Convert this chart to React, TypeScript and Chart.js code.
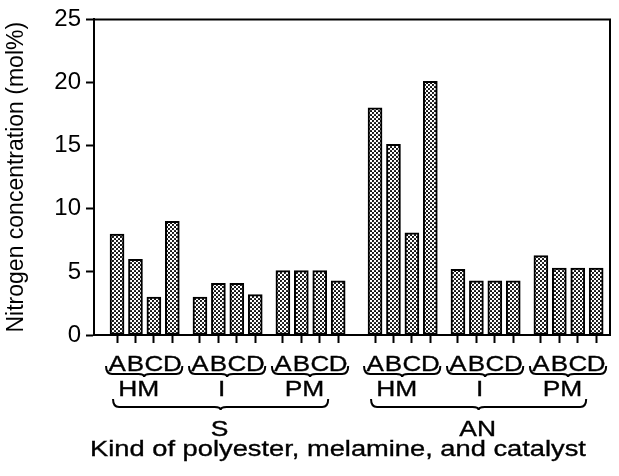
import React, { useEffect, useRef } from 'react';
import { Chart, registerables } from 'chart.js';

Chart.register(...registerables);

const polyesters = ['S', 'AN'];
const melamines = ['HM', 'I', 'PM'];
const catalysts = ['A', 'B', 'C', 'D'];
const valuesS = [8, 6, 3, 9, 3, 4.1, 4.1, 3.2, 5.1, 5.1, 5.1, 4.3];
const valuesAN = [18, 15.1, 8.1, 20.1, 5.2, 4.3, 4.3, 4.3, 6.3, 5.3, 5.3, 5.3];
const yTickValues = [0, 5, 10, 15, 20, 25];
const yTitle = 'Nitrogen concentration (mol%)';
const xTitle = 'Kind of polyester, melamine, and catalyst';

const FONT = "'Liberation Sans', Arial, Helvetica, sans-serif";

// Build category list (spacer categories hold null values)
const labels: string[] = [];
const barData: (number | null)[] = [];
type Group = { name: string; first: number; last: number };
const melGroups: Group[] = [];
const polyGroups: Group[] = [];
const spacer = (n: number) => {
  for (let i = 0; i < n; i++) {
    labels.push('');
    barData.push(null);
  }
};
spacer(2);
polyesters.forEach((p, pi) => {
  if (pi > 0) spacer(3);
  const vals = pi === 0 ? valuesS : valuesAN;
  const pFirst = labels.length;
  melamines.forEach((m, mi) => {
    if (mi > 0) spacer(2);
    const mFirst = labels.length;
    catalysts.forEach((c, ci) => {
      if (ci > 0) spacer(1);
      labels.push(c);
      barData.push(vals[mi * catalysts.length + ci]);
    });
    melGroups.push({ name: m, first: mFirst, last: labels.length - 1 });
  });
  polyGroups.push({ name: p, first: pFirst, last: labels.length - 1 });
});
spacer(1);

function makePattern(): CanvasPattern | string {
  const c = document.createElement('canvas');
  c.width = 4;
  c.height = 4;
  const g = c.getContext('2d');
  if (!g) return '#999';
  g.fillStyle = '#fff';
  g.fillRect(0, 0, 4, 4);
  g.fillStyle = '#000';
  g.beginPath();
  g.arc(1, 1, 1.05, 0, Math.PI * 2);
  g.fill();
  g.beginPath();
  g.arc(3, 3, 1.05, 0, Math.PI * 2);
  g.fill();
  const pat = g.createPattern(c, 'repeat');
  return pat || '#999';
}

function underbrace(ctx: CanvasRenderingContext2D, x1: number, x2: number, yTop: number, yLine: number, tip: number, mid?: number) {
  const m = mid ?? (x1 + x2) / 2;
  const r = Math.min(6, (x2 - x1) / 4);
  ctx.beginPath();
  ctx.moveTo(x1, yTop);
  ctx.quadraticCurveTo(x1, yLine, x1 + r, yLine);
  ctx.lineTo(m - r, yLine);
  ctx.quadraticCurveTo(m, yLine, m, yLine + tip);
  ctx.quadraticCurveTo(m, yLine, m + r, yLine);
  ctx.lineTo(x2 - r, yLine);
  ctx.quadraticCurveTo(x2, yLine, x2, yTop);
  ctx.stroke();
}

function stretchedText(ctx: CanvasRenderingContext2D, text: string, x: number, y: number, sx: number) {
  ctx.save();
  ctx.translate(x, y);
  ctx.scale(sx, 1);
  ctx.lineWidth = 0.35;
  ctx.strokeStyle = '#000';
  ctx.fillText(text, 0, 0);
  ctx.strokeText(text, 0, 0);
  ctx.restore();
}

const decorPlugin = {
  id: 'decor',
  afterDraw(chart: any) {
    const ctx: CanvasRenderingContext2D = chart.ctx;
    const { left, right, top, bottom } = chart.chartArea;
    const xs = chart.scales.x;
    ctx.save();
    ctx.strokeStyle = '#000';
    ctx.lineWidth = 2;
    ctx.beginPath();
    ctx.moveTo(left - 1, top);
    ctx.lineTo(right, top);
    ctx.lineTo(right, bottom);
    ctx.stroke();

    ctx.fillStyle = '#000';
    ctx.textAlign = 'center';
    ctx.textBaseline = 'alphabetic';
    ctx.font = `22px ${FONT}`;

    // catalyst letters (category tick labels)
    labels.forEach((lab, i) => {
      if (!lab) return;
      stretchedText(ctx, lab, xs.getPixelForValue(i), 371, 1.18);
    });

    ctx.lineWidth = 2;
    melGroups.forEach((g) => {
      const x1 = xs.getPixelForValue(g.first);
      const x2 = xs.getPixelForValue(g.last);
      underbrace(ctx, x1 - 11, x2 + 10, 366, 374, 3);
      stretchedText(ctx, g.name, (x1 + x2) / 2 - 6, 396, 1.2);
    });
    polyGroups.forEach((g) => {
      const x1 = xs.getPixelForValue(g.first);
      const x2 = xs.getPixelForValue(g.last);
      underbrace(ctx, x1 - 4, x2 - 10, 399, 407, 3);
      stretchedText(ctx, g.name, (x1 + x2) / 2 - 8, 436, 1.2);
    });
    stretchedText(ctx, xTitle, 338, 456, 1.24);
    ctx.restore();
  },
};

export default function App() {
  const ref = useRef<HTMLCanvasElement | null>(null);
  useEffect(() => {
    if (!ref.current) return;
    const chart = new Chart(ref.current, {
      type: 'bar',
      data: {
        labels,
        datasets: [
          {
            data: barData,
            backgroundColor: makePattern() as any,
            borderColor: '#000',
            borderWidth: 2,
            borderSkipped: false,
            barThickness: 14,
          },
        ],
      },
      options: {
        animation: false,
        responsive: false,
        maintainAspectRatio: false,
        layout: { padding: { left: 0, top: 16, right: 9, bottom: 0 } },
        plugins: { legend: { display: false }, tooltip: { enabled: false } },
        scales: {
          x: {
            type: 'category',
            offset: true,
            grid: {
              offset: false,
              drawOnChartArea: false,
              tickLength: 8,
              tickWidth: 2,
              tickColor: (c: any) => (labels[c.index] ? '#000' : 'rgba(0,0,0,0)'),
            },
            border: { color: '#000', width: 2 },
            ticks: {
              display: false,
              autoSkip: false,
              maxRotation: 0,
              minRotation: 0,
            },
            afterFit: (s: any) => {
              s.height = 141;
            },
          },
          y: {
            min: 0,
            max: 25,
            afterBuildTicks: (s: any) => {
              s.ticks = yTickValues.map((v) => ({ value: v }));
            },
            grid: { drawOnChartArea: false, tickLength: 8, tickWidth: 2, tickColor: '#000' },
            border: { color: '#000', width: 2 },
            ticks: { color: '#000', padding: 5, font: { family: FONT, size: 24 } },
            title: {
              display: true,
              text: yTitle,
              color: '#000',
              font: { family: FONT, size: 23 },
              padding: { top: 3, bottom: 0 },
            },
            afterFit: (s: any) => {
              s.width = 94;
            },
          },
        },
      },
      plugins: [decorPlugin],
    });
    return () => chart.destroy();
  }, []);
  return (
    <div style={{ position: 'fixed', left: 0, top: 0, width: 619, height: 476, background: '#fff' }}>
      <canvas ref={ref} width={619} height={476} style={{ display: 'block' }} />
    </div>
  );
}
